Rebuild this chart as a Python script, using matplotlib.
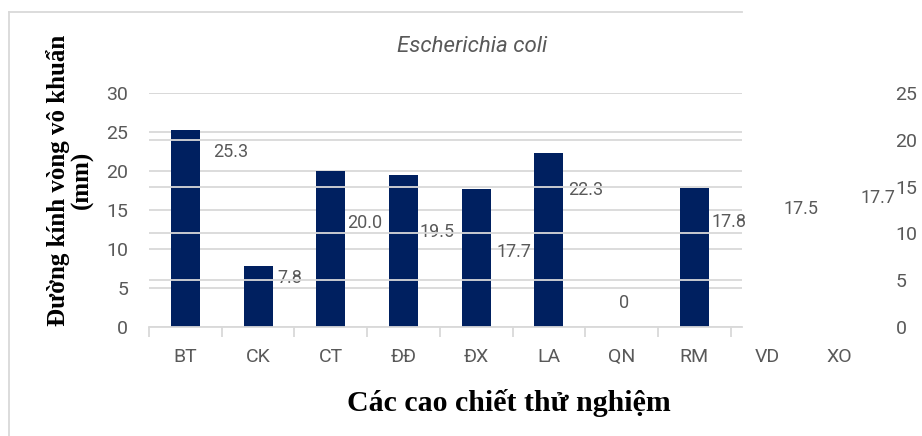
import matplotlib
matplotlib.use("Agg")
import matplotlib.pyplot as plt
from matplotlib.lines import Line2D
import numpy as np

# ---- data ----
categories = ["BT", "CK", "CT", "ĐĐ", "ĐX", "LA", "QN", "RM", "VD", "XO"]
values = [25.3, 7.8, 20.0, 19.5, 17.7, 22.3, 0, 17.8, 17.5, 17.7]
bar_visible = [True, True, True, True, True, True, True, True, False, False]
left_ticks = [0, 5, 10, 15, 20, 25, 30]
right_ticks = [0, 5, 10, 15, 20, 25]
title = "Escherichia coli"
ylabel = "Đường kính vòng vô khuẩn\n(mm)"
xlabel = "Các cao chiết thử nghiệm"

# label offsets (pixels: right, down) from bar top centre
label_offsets = [(45, 22), (32, 12), (34, 52), (34, 57), (38, 63),
                 (37, 37), (3, -24), (35, 34), (34, 18), (38, 9)]

W, H = 922, 436
fig = plt.figure(figsize=(W / 100, H / 100), dpi=100)
fig.patch.set_facecolor("white")

ax_l, ax_r, ax_t, ax_b = 149, 876, 93, 327
ax = fig.add_axes([ax_l / W, 1 - ax_b / H, (ax_r - ax_l) / W, (ax_b - ax_t) / H])
ax2 = ax.twinx()

grid_col = "#d9d9d9"
txt_col = "#595959"
bar_col = "#002060"
num_font = "Roboto"

x = np.arange(len(categories))
ax.set_xlim(-0.5, len(categories) - 0.5)
ax.set_ylim(0, 30)
ax2.set_ylim(0, 25)

grid_end = (742 - ax_l) / (ax_r - ax_l)
ax.hlines(left_ticks, 0, grid_end, transform=ax.get_yaxis_transform(),
          color=grid_col, lw=1.3, zorder=0)
ax2.hlines(right_ticks, 0, grid_end, transform=ax2.get_yaxis_transform(),
           color=grid_col, lw=1.3, zorder=0)

colors = [bar_col if v else "none" for v in bar_visible]
bars = ax.bar(x, values, width=0.4, color=colors, zorder=3)

for b, v, (dx, dy) in zip(bars, values, label_offsets):
    lab = f"{v:.1f}" if v else "0"
    ax.annotate(lab, (b.get_x() + b.get_width() / 2, b.get_height()),
                xytext=(dx, -dy), textcoords="offset pixels",
                ha="center", va="center", fontsize=13, color=txt_col,
                family=num_font, zorder=5)

for a in (ax, ax2):
    for s in a.spines.values():
        s.set_visible(False)

ax.spines["bottom"].set_visible(True)
ax.spines["bottom"].set_color(grid_col)
ax.spines["bottom"].set_linewidth(1.3)
ax.spines["bottom"].set_bounds(-0.5, grid_end * len(categories) - 0.5)

ax.set_xticks(x)
ax.set_xticklabels(categories, family=num_font, fontsize=14, color=txt_col)
ax.set_xticks(np.arange(-0.5, 8.0, 1.0), minor=True)
ax.tick_params(axis="x", which="major", length=0, pad=15)
ax.tick_params(axis="x", which="minor", length=7, width=1.3, color=grid_col)

ax.set_yticks(left_ticks)
ax.set_yticklabels([str(t) for t in left_ticks], family=num_font, fontsize=14, color=txt_col)
ax.tick_params(axis="y", length=0, pad=15)

ax2.set_yticks(right_ticks)
ax2.set_yticklabels([str(t) for t in right_ticks], family=num_font, fontsize=14, color=txt_col)
ax2.tick_params(axis="y", length=0, pad=14)

fig.text(472 / W, 1 - 47 / H, title, ha="center", va="center", fontsize=16,
         style="italic", color=txt_col, family=num_font)
fig.text(70 / W, 1 - 180 / H, ylabel, rotation=90, ha="center", va="center",
         multialignment="center", fontsize=18, fontweight="bold",
         family="Liberation Serif", color="black", linespacing=1.05)
fig.text(509 / W, 1 - 403 / H, xlabel, ha="center", va="center", fontsize=21.5,
         fontweight="bold", family="Liberation Serif", color="black")

# chart border (top and left)
fig.add_artist(Line2D([9 / W, 742 / W], [1 - 12 / H, 1 - 12 / H],
                      transform=fig.transFigure, color=grid_col, lw=1.3))
fig.add_artist(Line2D([9 / W, 9 / W], [1 - 12 / H, 0],
                      transform=fig.transFigure, color=grid_col, lw=1.3))

fig.savefig("out.png", dpi=100, facecolor="white")
